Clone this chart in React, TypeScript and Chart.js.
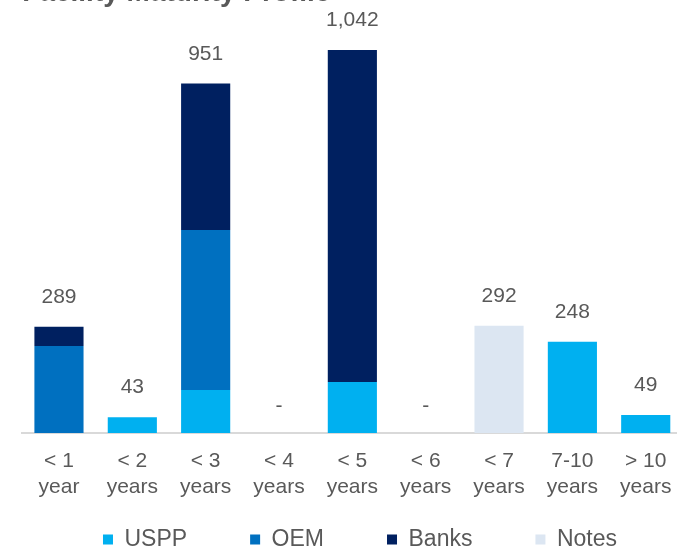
import React, { useEffect, useRef } from "react";
import { Chart, registerables } from "chart.js";

Chart.register(...registerables);

const categories: string[][] = [
  ["< 1", "year"],
  ["< 2", "years"],
  ["< 3", "years"],
  ["< 4", "years"],
  ["< 5", "years"],
  ["< 6", "years"],
  ["< 7", "years"],
  ["7-10", "years"],
  ["> 10", "years"],
];
const usppValues = [0, 43, 117, 0, 139, 0, 0, 248, 49];
const oemValues = [237, 0, 435, 0, 0, 0, 0, 0, 0];
const banksValues = [52, 0, 399, 0, 903, 0, 0, 0, 0];
const notesValues = [0, 0, 0, 0, 0, 0, 292, 0, 0];
const seriesNames = ["USPP", "OEM", "Banks", "Notes"];
const titleText = "Facility Maturity Profile";
const yMax = 1152;

const totals = categories.map(
  (_, i) => usppValues[i] + oemValues[i] + banksValues[i] + notesValues[i]
);

const FONT = '"Liberation Sans", Arial, sans-serif';
const TEXT = "#595959";

const totalsPlugin = {
  id: "totalsLabels",
  afterDatasetsDraw(chart: any) {
    const { ctx, scales } = chart;
    const x = scales.x;
    const y = scales.y;
    ctx.save();
    ctx.font = `21px ${FONT}`;
    ctx.fillStyle = TEXT;
    ctx.textAlign = "center";
    ctx.textBaseline = "middle";
    totals.forEach((t, i) => {
      const px = x.getPixelForValue(i);
      const py = y.getPixelForValue(t);
      const label = t > 0 ? t.toLocaleString("en-US") : "-";
      ctx.fillText(label, px, py - (t > 0 ? 29.5 : 27));
    });
    ctx.restore();
  },
};

export default function App() {
  const canvasRef = useRef<HTMLCanvasElement | null>(null);

  useEffect(() => {
    if (!canvasRef.current) return;
    const chart = new Chart(canvasRef.current, {
      type: "bar",
      data: {
        labels: categories,
        datasets: [
          { label: seriesNames[0], data: usppValues, backgroundColor: "#00B0F0" },
          { label: seriesNames[1], data: oemValues, backgroundColor: "#0070C0" },
          { label: seriesNames[2], data: banksValues, backgroundColor: "#002060" },
          { label: seriesNames[3], data: notesValues, backgroundColor: "#DCE6F2" },
        ].map((d) => ({
          ...d,
          borderWidth: 0,
          barPercentage: 0.67,
          categoryPercentage: 1.0,
        })),
      },
      options: {
        animation: false,
        responsive: true,
        maintainAspectRatio: false,
        layout: { padding: { left: 22.3, right: 22.3, top: 0, bottom: 0 } },
        plugins: {
          title: {
            display: true,
            text: titleText,
            align: "start",
            color: TEXT,
            font: { size: 28, weight: "bold", family: FONT },
            padding: { top: 16, bottom: 0 },
          },
          legend: {
            position: "bottom",
            title: {
              display: true,
              text: " ",
              font: { size: 1, lineHeight: 1, family: FONT },
              padding: { top: -38, bottom: 0 },
            },
            labels: {
              boxWidth: 10,
              boxHeight: 10,
              padding: 63,
              color: TEXT,
              font: { size: 23, family: FONT },
            },
          },
          tooltip: { enabled: false },
        },
        scales: {
          x: {
            stacked: true,
            grid: { display: false, drawTicks: false },
            border: { display: true, color: "#d9d9d9", width: 2 },
            ticks: {
              color: TEXT,
              font: { size: 21, family: FONT },
              padding: 16,
              maxRotation: 0,
              autoSkip: false,
            },
            afterFit: (axis: any) => {
              axis.height = 69;
            },
          },
          y: {
            stacked: true,
            position: "right",
            min: 0,
            max: yMax,
            grid: { display: false, drawTicks: false },
            border: { display: false },
            ticks: { display: false },
            afterFit: (axis: any) => {
              axis.width = 15.3;
            },
          },
        },
      },
      plugins: [totalsPlugin],
    } as any);
    return () => chart.destroy();
  }, []);

  return (
    <div
      style={{
        position: "absolute",
        left: 0,
        top: 0,
        width: 677,
        height: 547,
        overflow: "hidden",
        background: "#ffffff",
      }}
    >
      <div style={{ position: "absolute", left: 0, top: -40, width: 720, height: 601 }}>
        <canvas ref={canvasRef} />
      </div>
    </div>
  );
}
